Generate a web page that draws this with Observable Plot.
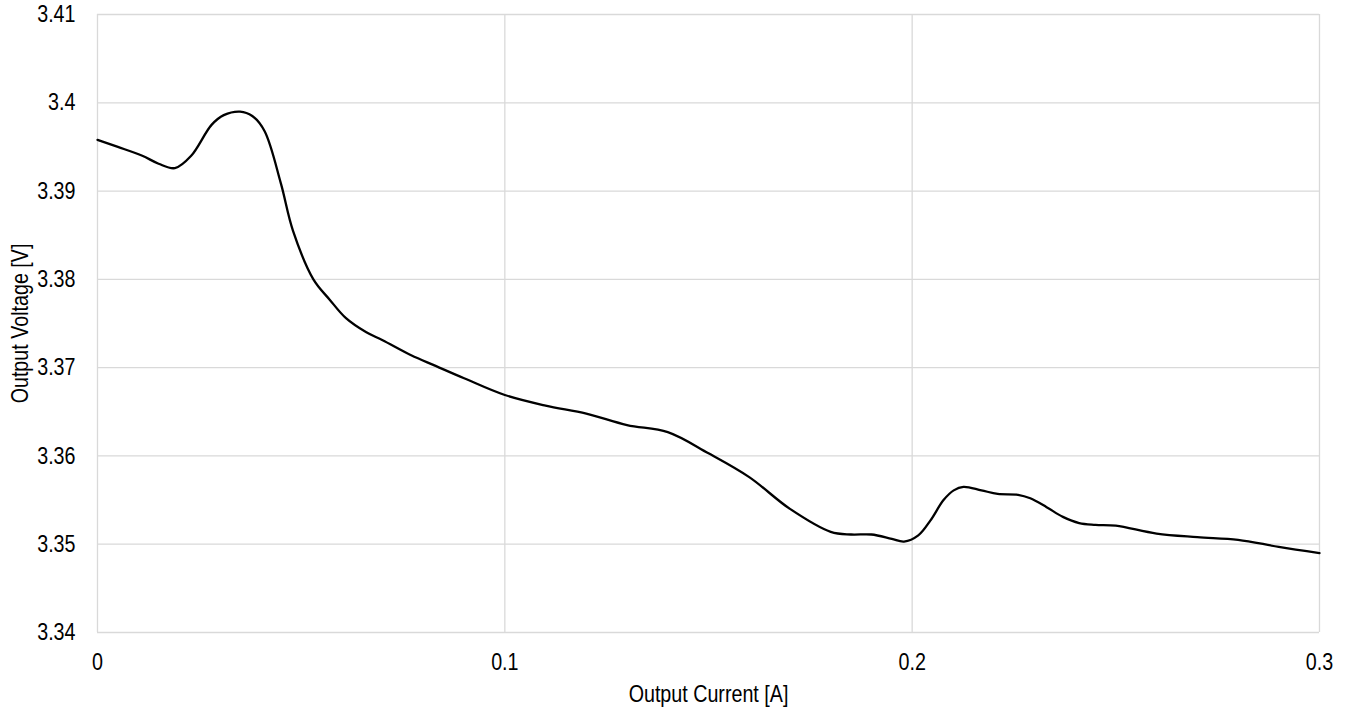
<!DOCTYPE html>
<html>
<head>
<meta charset="utf-8">
<script src="https://cdn.jsdelivr.net/npm/d3@7"></script>
<script src="https://cdn.jsdelivr.net/npm/@observablehq/plot@0.6"></script>
<style>
  html, body { margin: 0; padding: 0; background: #fff; }
  #chart svg { display: block; }
</style>
</head>
<body>
<div id="chart"></div>
<script>
const current = [0, 0.005, 0.011, 0.015, 0.019, 0.023, 0.028, 0.031, 0.035, 0.038, 0.041, 0.045, 0.048, 0.053, 0.057, 0.061, 0.066, 0.070, 0.077, 0.083, 0.09, 0.1, 0.11, 0.12, 0.13, 0.14, 0.15, 0.16, 0.17, 0.18, 0.185, 0.19, 0.195, 0.198, 0.2015, 0.2045, 0.2077, 0.2102, 0.2126, 0.217, 0.221, 0.226, 0.229, 0.233, 0.237, 0.241, 0.245, 0.25, 0.26, 0.27, 0.28, 0.29, 0.30];
const voltage = [3.3958, 3.3950, 3.3940, 3.3931, 3.3926, 3.3940, 3.3975, 3.3986, 3.3990, 3.3985, 3.3968, 3.3909, 3.3855, 3.3800, 3.3777, 3.3756, 3.3740, 3.3731, 3.3714, 3.3702, 3.3688, 3.3669, 3.3657, 3.3648, 3.3635, 3.3627, 3.3603, 3.3576, 3.3540, 3.3514, 3.3511, 3.3511, 3.3506, 3.3503, 3.3510, 3.3527, 3.3550, 3.3561, 3.3565, 3.3561, 3.3557, 3.3556, 3.3552, 3.3542, 3.3531, 3.3524, 3.3522, 3.3521, 3.3512, 3.3508, 3.3505, 3.3497, 3.3490];
const xTicks = [0, 0.1, 0.2, 0.3];
const yTicks = [3.34, 3.35, 3.36, 3.37, 3.38, 3.39, 3.40, 3.41];

const data = current.map((c, i) => ({current: c, voltage: voltage[i]}));
const grid = "#d9d9d9";

const chart = Plot.plot({
  width: 1348,
  height: 710,
  marginLeft: 97,
  marginRight: 29,
  marginTop: 14,
  marginBottom: 78,
  style: {fontFamily: "'Liberation Sans', Arial, sans-serif", fontSize: "24px", color: "#000", background: "#fff"},
  x: {domain: [0, 0.3]},
  y: {domain: [3.34, 3.41]},
  marks: [
    Plot.gridX(xTicks, {stroke: grid, strokeOpacity: 1, strokeWidth: 1.3}),
    Plot.gridY(yTicks, {stroke: grid, strokeOpacity: 1, strokeWidth: 1.3}),
    Plot.axisX(xTicks, {tickSize: 0, tickPadding: 20, tickFormat: d => String(+d.toFixed(2)), label: "Output Current [A]", labelAnchor: "center", labelArrow: "none", labelOffset: 69}),
    Plot.axisY(yTicks, {tickSize: 0, tickPadding: 22, tickFormat: d => String(+d.toFixed(2)), label: "Output Voltage [V]", labelAnchor: "center", labelArrow: "none", labelOffset: 87}),
    Plot.line(data, {x: "current", y: "voltage", curve: "catmull-rom", stroke: "#000", strokeWidth: 2.3})
  ]
});
document.getElementById("chart").appendChild(chart);
// condense text glyphs horizontally to match the narrow reference typeface
chart.querySelectorAll("text").forEach(t => {
  const len = t.getComputedTextLength();
  if (len > 0) {
    t.setAttribute("textLength", (len * 0.82).toFixed(1));
    t.setAttribute("lengthAdjust", "spacingAndGlyphs");
  }
});
</script>
</body>
</html>
